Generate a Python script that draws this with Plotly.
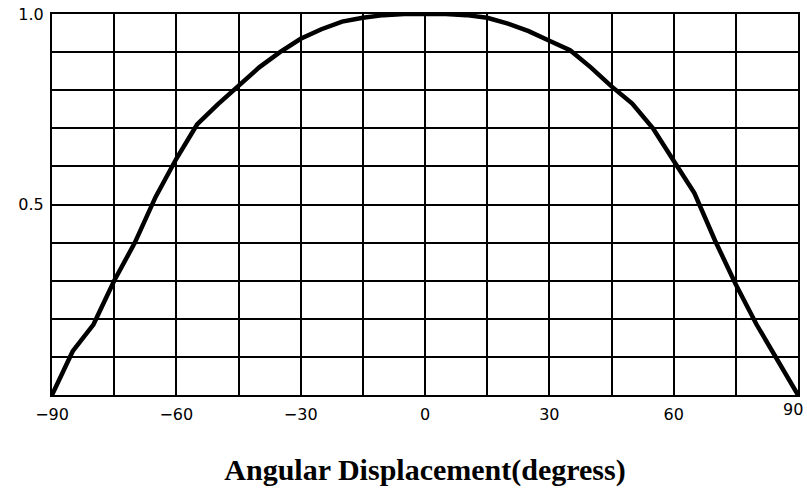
import plotly.graph_objects as go

angles = [-90, -85, -80, -75, -70, -65, -60, -55, -50, -45, -40, -35, -30, -25, -20, -15, -10, -5,
          0, 5, 10, 15, 20, 25, 30, 35, 40, 45, 50, 55, 60, 65, 70, 75, 80, 85, 90]
response = [0.0, 0.115, 0.185, 0.30, 0.40, 0.52, 0.62, 0.71, 0.763, 0.81, 0.86, 0.90, 0.935, 0.96, 0.98, 0.99, 0.997, 1.0,
            1.0, 1.0, 0.997, 0.99, 0.975, 0.955, 0.93, 0.905, 0.86, 0.81, 0.765, 0.70, 0.615, 0.53, 0.405, 0.29, 0.185, 0.09, 0.0]

x_tickvals = [-90, -75, -60, -45, -30, -15, 0, 15, 30, 45, 60, 75, 90]
x_ticktext = ["\u221290", "", "\u221260", "", "\u221230", "", "0", "", "30", "", "60", "", "90"]
y_tickvals = [0, 0.1, 0.2, 0.3, 0.4, 0.5, 0.6, 0.7, 0.8, 0.9, 1.0]
y_ticktext = ["", "", "", "", "", "0.5", "", "", "", "", "1.0"]

fig = go.Figure()
fig.add_trace(go.Scatter(x=angles, y=response, mode="lines",
                         line=dict(color="black", width=4.5), showlegend=False))

# the last x label sits at the right edge: draw it right-aligned so it stays inside the page
axis_ticktext = x_ticktext[:-1] + [""]
fig.add_annotation(x=x_tickvals[-1], y=0, xref="x", yref="paper",
                   text=x_ticktext[-1], showarrow=False,
                   xanchor="right", yanchor="top", xshift=7, yshift=-3,
                   font=dict(family="DejaVu Sans", size=16, color="black"))

fig.update_layout(
    width=807, height=501,
    margin=dict(l=52, r=9, t=14, b=106),
    paper_bgcolor="white", plot_bgcolor="white",
    font=dict(family="DejaVu Sans", size=16, color="black"),
)
fig.update_xaxes(range=[-90, 90], tickvals=x_tickvals, ticktext=axis_ticktext,
                 showgrid=True, gridcolor="black", gridwidth=1.5,
                 showline=True, linecolor="black", linewidth=2, mirror=True,
                 zeroline=False, ticks="", ticklabelstandoff=4, automargin=False,
                 ticklabeloverflow="allow",
                 title=dict(text="<b>Angular Displacement(degress)</b>",
                            font=dict(family="Liberation Serif", size=30, color="black"),
                            standoff=36))
fig.update_yaxes(range=[0, 1], tickvals=y_tickvals, ticktext=y_ticktext,
                 showgrid=True, gridcolor="black", gridwidth=1.5,
                 showline=True, linecolor="black", linewidth=2, mirror=True,
                 zeroline=False, ticks="", ticklabelstandoff=3, automargin=False,
                 ticklabeloverflow="allow")

fig.write_html("out.html", config={"displayModeBar": False},
               post_script="document.body.style.margin='0px';")
